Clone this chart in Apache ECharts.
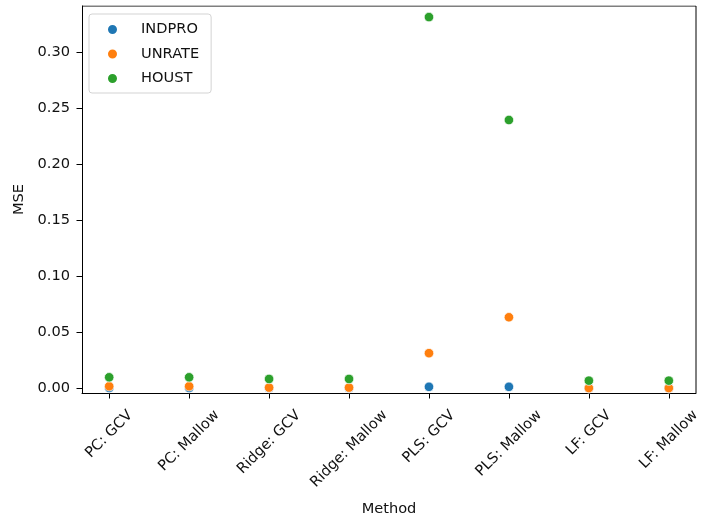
<!DOCTYPE html>
<html>
<head>
<meta charset="utf-8">
<script src="https://cdn.jsdelivr.net/npm/echarts@6/dist/echarts.min.js"></script>
<style>
  html, body { margin: 0; padding: 0; background: #fff; }
  #chart { width: 701px; height: 524px; }
</style>
</head>
<body>
<div id="chart"></div>
<script>
// Forecast error (MSE) per selection method, for three target series
const methods = ['PC: GCV', 'PC: Mallow', 'Ridge: GCV', 'Ridge: Mallow', 'PLS: GCV', 'PLS: Mallow', 'LF: GCV', 'LF: Mallow'];
const indpro = [0.0005, 0.0005, 0.0004, 0.0004, 0.0015, 0.0015, 0.0003, 0.0003];
const unrate = [0.0020, 0.0020, 0.0008, 0.0008, 0.0315, 0.0635, 0.0004, 0.0004];
const houst  = [0.0100, 0.0100, 0.0085, 0.0085, 0.3310, 0.2393, 0.0070, 0.0070];
const yTicks = [0, 0.05, 0.10, 0.15, 0.20, 0.25, 0.30];

const FONT = 'DejaVu Sans';
const FS = 14.6;
const TEXT = '#111';

function pts(arr) { return arr.map((v, i) => [i, v]); }

function scatter(name, data, color) {
  return {
    name: name,
    type: 'scatter',
    data: pts(data),
    symbol: 'circle',
    symbolSize: 9.5,
    itemStyle: { color: color, borderColor: '#ffffff', borderWidth: 0.7, opacity: 1 },
    emphasis: { disabled: true }
  };
}

// Rotated tick labels are centred under their tick with a common top edge:
// each label gets its own rich style whose padding shifts it down by half its length.
const measureCtx = document.createElement('canvas').getContext('2d');
measureCtx.font = FS + 'px "' + FONT + '"';
const richLabels = {};
methods.forEach((m, i) => {
  const w = measureCtx.measureText(m).width;
  const p = w / 2;
  richLabels['m' + i] = {
    fontFamily: FONT, fontSize: FS, color: TEXT, lineHeight: 15,
    padding: [p, p, 0, 0]
  };
});

const chart = echarts.init(document.getElementById('chart'), null, { renderer: 'canvas' });
chart.setOption({
  animation: false,
  textStyle: { fontFamily: FONT },
  grid: { left: 82, right: 5, top: 6, bottom: 131, containLabel: false, outerBoundsMode: 'none' },
  legend: {
    orient: 'vertical',
    left: 89,
    top: 14,
    padding: [8, 12, 7, 17],
    itemGap: 9.5,
    itemWidth: 11,
    itemHeight: 11,
    icon: 'circle',
    backgroundColor: '#ffffff',
    borderColor: '#d3d3d3',
    borderWidth: 1,
    borderRadius: 3,
    textStyle: { fontFamily: FONT, fontSize: FS, color: TEXT, lineHeight: 14, padding: [0, 0, 0, 18] },
    data: ['INDPRO', 'UNRATE', 'HOUST']
  },
  xAxis: {
    type: 'value',
    min: -0.34,
    max: 7.34,
    name: 'Method',
    nameLocation: 'middle',
    nameGap: 109,
    nameTextStyle: { fontFamily: FONT, fontSize: FS, color: TEXT },
    splitLine: { show: false },
    axisLine: { show: true, onZero: false, lineStyle: { color: '#000', width: 1 } },
    axisTick: { show: true, inside: false, length: 5.5, customValues: methods.map((m, i) => i), lineStyle: { color: '#000' } },
    axisLabel: {
      customValues: methods.map((m, i) => i),
      formatter: v => { const i = Math.round(v); return '{m' + i + '|' + methods[i] + '}'; },
      rich: richLabels,
      rotate: 45,
      align: 'center',
      verticalAlign: 'middle',
      margin: 20,
      fontFamily: FONT, fontSize: FS, color: TEXT
    }
  },
  yAxis: {
    type: 'value',
    min: -0.004,
    max: 0.3409,
    name: 'MSE',
    nameLocation: 'middle',
    nameGap: 55,
    nameRotate: 90,
    nameTextStyle: { fontFamily: FONT, fontSize: FS, color: TEXT },
    splitLine: { show: false },
    axisLine: { show: true, onZero: false, lineStyle: { color: '#000', width: 1 } },
    axisTick: { show: true, inside: false, length: 5.5, customValues: yTicks, lineStyle: { color: '#000' } },
    axisLabel: {
      customValues: yTicks,
      formatter: v => v.toFixed(2),
      margin: 12,
      fontFamily: FONT, fontSize: FS, color: TEXT
    }
  },
  series: [
    scatter('INDPRO', indpro, '#1f77b4'),
    scatter('UNRATE', unrate, '#ff7f0e'),
    scatter('HOUST', houst, '#2ca02c'),
    // top and right frame edges of the plotting area
    {
      type: 'line', data: [[-0.34, 0.3409], [7.34, 0.3409], [7.34, -0.004]],
      symbol: 'none', silent: true, legendHoverLink: false,
      lineStyle: { color: '#000', width: 1 }, z: 1
    }
  ]
});
</script>
</body>
</html>
